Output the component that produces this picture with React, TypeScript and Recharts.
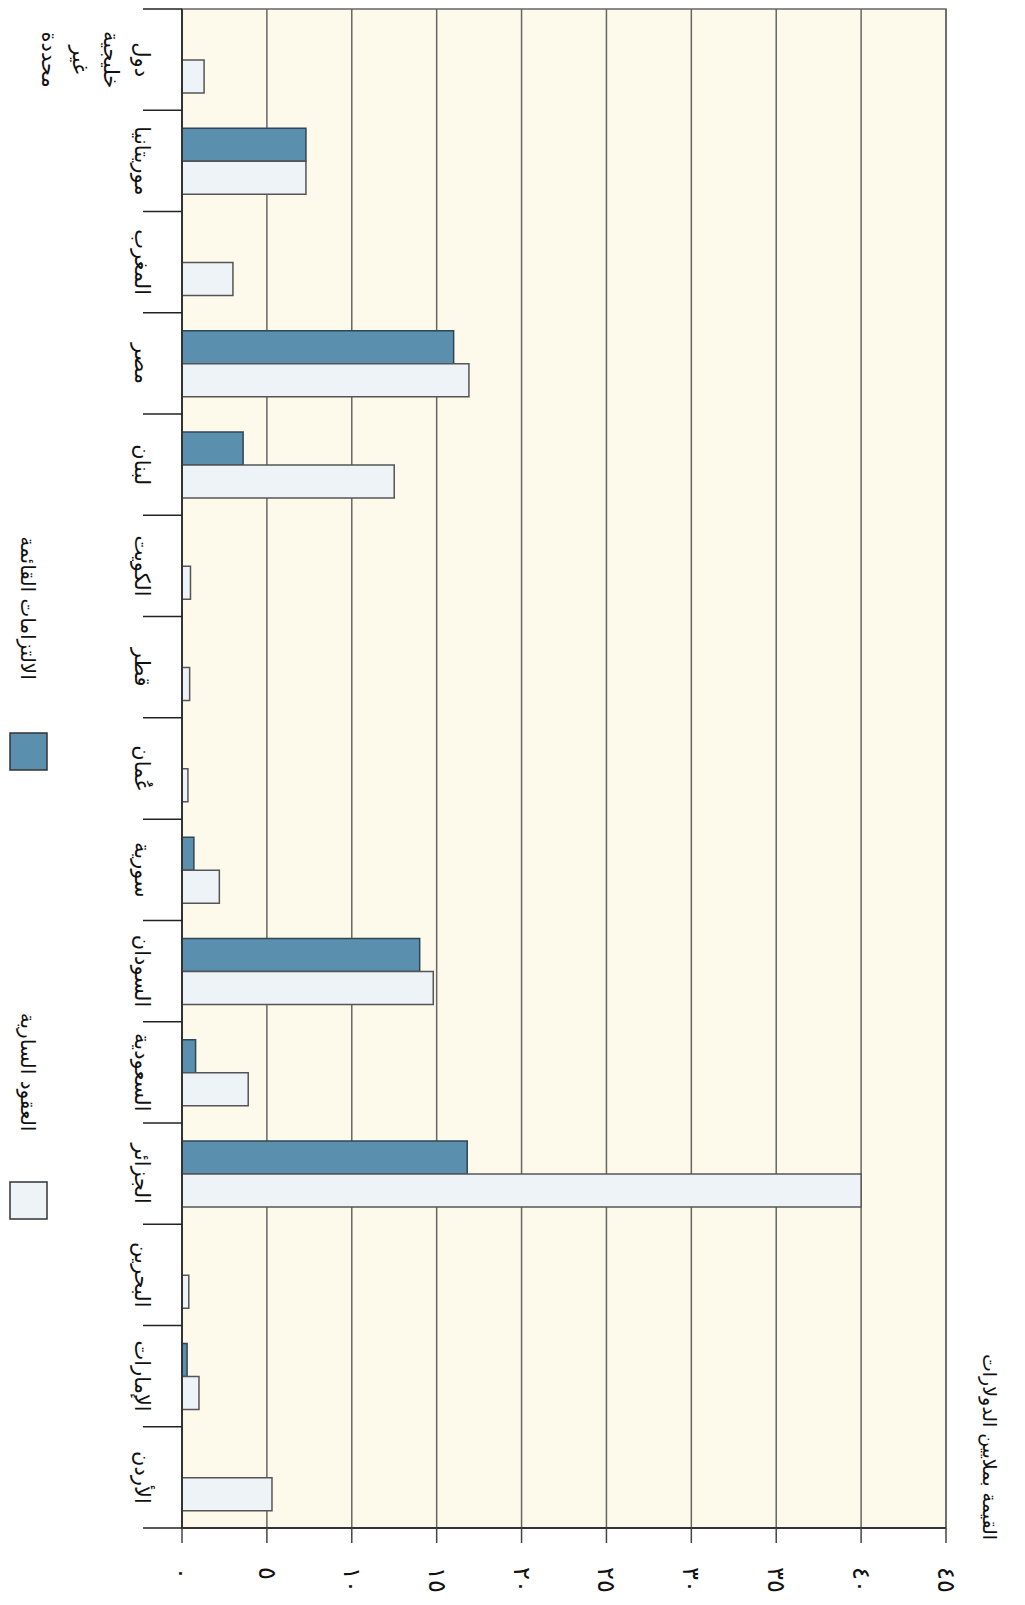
import React from "react";
import {
  BarChart,
  Bar,
  XAxis,
  YAxis,
  CartesianGrid,
  ReferenceArea,
} from "recharts";

// Categories, top to bottom (the page is printed sideways)
const CATEGORIES = [
  "دول خليجية غير محددة",
  "موريتانيا",
  "المغرب",
  "مصر",
  "لبنان",
  "الكويت",
  "قطر",
  "عُمان",
  "سورية",
  "السودان",
  "السعودية",
  "الجزائر",
  "البحرين",
  "الإمارات",
  "الأردن",
];

// الالتزامات القائمة (millions of dollars)
const COMMITMENTS = [null, 7.3, null, 16.0, 3.6, null, null, null, 0.7, 14.0, 0.8, 16.8, null, 0.3, null];

// العقود السارية (millions of dollars)
const CONTRACTS = [1.3, 7.3, 3.0, 16.9, 12.5, 0.5, 0.45, 0.35, 2.2, 14.8, 3.9, 40, 0.4, 1.0, 5.3];

const X_TICKS = [0, 5, 10, 15, 20, 25, 30, 35, 40, 45];
const X_TICK_LABELS = ["٠", "٥", "١٠", "١٥", "٢٠", "٢٥", "٣٠", "٣٥", "٤٠", "٤٥"];

const SERIES_LABELS = ["الالتزامات القائمة", "العقود السارية"];
const AXIS_TITLE = "القيمة بملايين الدولارات";

const W = 1025;
const H = 1605;
const MARGIN = { top: 9, right: 79, bottom: 0, left: 0 };
const Y_AXIS_W = 182;
const X_AXIS_H = 77;
const BAND = (H - MARGIN.top - MARGIN.bottom - X_AXIS_H) / CATEGORIES.length;

const BLUE = "#5a8fae";
const BLUE_EDGE = "#2e4756";
const LIGHT = "#eef3f8";
const LIGHT_EDGE = "#555";
const PAPER = "#fdf9eb";
const FONT = "'DejaVu Sans', sans-serif";

const data = CATEGORIES.map((name, i) => ({
  name,
  commitments: COMMITMENTS[i],
  contracts: CONTRACTS[i],
}));

function CategoryTick(props: any) {
  const { x, y, payload, index } = props;
  const words = String(payload.value).split(" ");
  const top = y - BAND / 2;
  const bottom = y + BAND / 2;
  return (
    <g>
      <line x1={x - 39} x2={x} y1={top} y2={top} stroke="#222" strokeWidth={1.5} />
      {index === CATEGORIES.length - 1 && (
        <line x1={x - 39} x2={x} y1={bottom} y2={bottom} stroke="#222" strokeWidth={1.5} />
      )}
      {words.map((w, i) => {
        const cx = x - 40 - i * 31;
        return (
          <text
            key={i}
            x={cx}
            y={y}
            transform={`rotate(90 ${cx} ${y})`}
            textAnchor="middle"
            dominantBaseline="central"
            fontFamily={FONT}
            fontSize={21}
            fill="#111"
          >
            {w}
          </text>
        );
      })}
    </g>
  );
}

function ValueTick(props: any) {
  const { x, y, payload } = props;
  const i = X_TICKS.indexOf(payload.value);
  return (
    <text
      x={x}
      y={y}
      transform={`rotate(90 ${x} ${y})`}
      textAnchor="start"
      dominantBaseline="central"
      fontFamily={FONT}
      fontSize={24}
      fill="#111"
    >
      {X_TICK_LABELS[i]}
    </text>
  );
}

export default function App() {
  return (
    <div style={{ position: "absolute", left: 0, top: 0, width: W, height: H, background: "#fff" }}>
      <BarChart
        width={W}
        height={H}
        data={data}
        layout="vertical"
        margin={MARGIN}
        barSize={33}
        barGap={0}
      >
        <CartesianGrid
          horizontal={false}
          stroke="#666"
          strokeWidth={1.5}
          fill={PAPER}
          fillOpacity={1}
        />
        <ReferenceArea x1={0} x2={45} fill="none" stroke="#666" strokeWidth={1.5} />
        <XAxis
          type="number"
          domain={[0, 45]}
          ticks={X_TICKS}
          interval={0}
          height={X_AXIS_H}
          tickSize={15}
          tickMargin={24}
          tickLine={{ stroke: "#444", strokeWidth: 1.5 }}
          axisLine={{ stroke: "#333", strokeWidth: 2 }}
          tick={(p: any) => <ValueTick {...p} />}
        />
        <YAxis
          type="category"
          dataKey="name"
          width={Y_AXIS_W}
          interval={0}
          tickSize={0}
          tickMargin={0}
          tickLine={false}
          axisLine={{ stroke: "#333", strokeWidth: 2 }}
          tick={(p: any) => <CategoryTick {...p} />}
        />
        <Bar
          dataKey="commitments"
          fill={BLUE}
          stroke={BLUE_EDGE}
          strokeWidth={1.5}
          isAnimationActive={false}
        />
        <Bar
          dataKey="contracts"
          fill={LIGHT}
          stroke={LIGHT_EDGE}
          strokeWidth={1.5}
          isAnimationActive={false}
        />
      </BarChart>

      {/* legend and value-axis title, printed sideways like the rest */}
      <svg
        width={W}
        height={H}
        style={{ position: "absolute", left: 0, top: 0, pointerEvents: "none" }}
      >
        <rect x={10} y={733} width={37} height={37} fill={BLUE} stroke="#333" strokeWidth={1.5} />
        <text
          x={28}
          y={608}
          transform="rotate(90 28 608)"
          textAnchor="middle"
          dominantBaseline="central"
          fontFamily={FONT}
          fontSize={20}
          fill="#111"
        >
          {SERIES_LABELS[0]}
        </text>
        <rect x={10} y={1182} width={37} height={37} fill={LIGHT} stroke="#333" strokeWidth={1.5} />
        <text
          x={28}
          y={1072}
          transform="rotate(90 28 1072)"
          textAnchor="middle"
          dominantBaseline="central"
          fontFamily={FONT}
          fontSize={20}
          fill="#111"
        >
          {SERIES_LABELS[1]}
        </text>
        <text
          x={990}
          y={1447}
          transform="rotate(90 990 1447)"
          textAnchor="middle"
          dominantBaseline="central"
          fontFamily={FONT}
          fontSize={19}
          fill="#111"
        >
          {AXIS_TITLE}
        </text>
      </svg>
    </div>
  );
}
